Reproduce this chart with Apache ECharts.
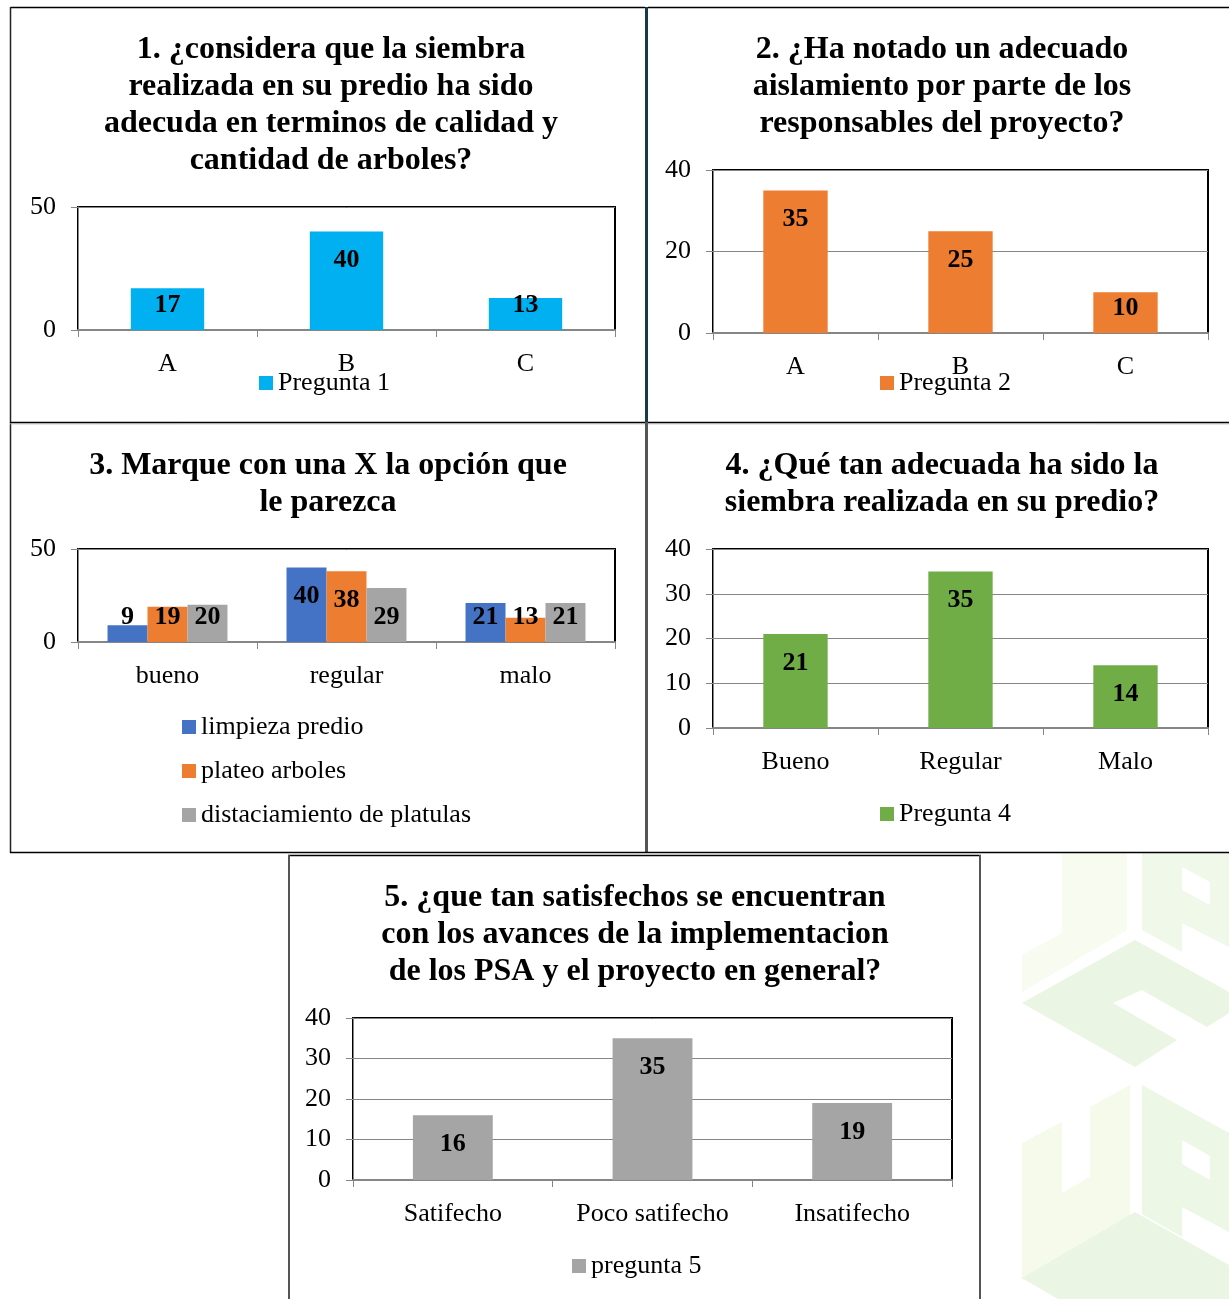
<!DOCTYPE html>
<html>
<head>
<meta charset="utf-8">
<script src="https://cdn.jsdelivr.net/npm/echarts@6/dist/echarts.min.js"></script>
<style>
html,body{margin:0;padding:0;background:#fff;}
#c{width:1229px;height:1299px;}
</style>
</head>
<body>
<div id="c"></div>
<script>
// ---------- data ----------
const cats1 = ['A', 'B', 'C'];
const pregunta1 = [17, 40, 13];

const cats2 = ['A', 'B', 'C'];
const pregunta2 = [35, 25, 10];

const cats3 = ['bueno', 'regular', 'malo'];
const limpiezaPredio = [9, 40, 21];
const plateoArboles = [19, 38, 13];
const distaciamiento = [20, 29, 21];

const cats4 = ['Bueno', 'Regular', 'Malo'];
const pregunta4 = [21, 35, 14];

const cats5 = ['Satifecho', 'Poco satifecho', 'Insatifecho'];
const pregunta5 = [16, 35, 19];

const titles = [
  '1. ¿considera que la siembra\nrealizada en su predio ha sido\nadecuda en terminos de calidad y\ncantidad de arboles?',
  '2. ¿Ha notado un adecuado\naislamiento por parte de los\nresponsables del proyecto?',
  '3. Marque con una X la opción que\nle parezca',
  '4. ¿Qué tan adecuada ha sido la\nsiembra realizada en su predio?',
  '5. ¿que tan satisfechos se encuentran\ncon los avances de la implementacion\nde los PSA y el proyecto en general?'
];

// ---------- styling ----------
const FF = '"Liberation Serif","Times New Roman",serif';
const C_BLUE = '#00B0F0', C_ORANGE = '#ED7D31', C_GRAY = '#A5A5A5', C_DBLUE = '#4472C4', C_GREEN = '#70AD47';
const AX = '#868686';

const chart = echarts.init(document.getElementById('c'), null, {renderer: 'canvas'});

const grids = [
  {left: 78, top: 207, width: 537, height: 123},
  {left: 713, top: 170, width: 495, height: 163},
  {left: 78, top: 549, width: 537, height: 93},
  {left: 713, top: 549, width: 495, height: 179},
  {left: 353, top: 1018, width: 599, height: 162}
].map(g => Object.assign({show: true, borderColor: '#000', borderWidth: 2, backgroundColor: 'transparent', containLabel: false}, g));

function xAx(i, cats) {
  return {
    type: 'category', gridIndex: i, data: cats,
    axisLine: {show: true, lineStyle: {color: AX, width: 2}},
    axisTick: {show: true, length: 7, lineStyle: {color: AX, width: 1}},
    axisLabel: {color: '#000', fontFamily: FF, fontSize: 26, margin: 21}
  };
}
function yAx(i, max, interval) {
  return {
    type: 'value', gridIndex: i, min: 0, max: max, interval: interval,
    axisLine: {show: true, lineStyle: {color: AX, width: 1}},
    axisTick: {show: true, length: 7, lineStyle: {color: AX, width: 1}},
    splitLine: {show: true, lineStyle: {color: AX, width: 1}},
    axisLabel: {color: '#000', fontFamily: FF, fontSize: 26, margin: 22}
  };
}

const labelLayout = function (p) {
  const r = p.rect;
  return {
    x: r.x + r.width / 2,
    y: Math.min(r.y + 29, r.y + r.height - 25),
    align: 'center', verticalAlign: 'middle'
  };
};
function barSeries(name, i, data, color, extra) {
  return Object.assign({
    type: 'bar', name: name, xAxisIndex: i, yAxisIndex: i, data: data,
    itemStyle: {color: color},
    label: {show: true, position: 'inside', color: '#000', fontFamily: FF, fontSize: 26, fontWeight: 'bold'},
    labelLayout: labelLayout,
    emphasis: {disabled: true},
    z: 3
  }, extra || {});
}

const titleCfg = [
  {x: 331, y: 31},
  {x: 942, y: 31},
  {x: 328, y: 447},
  {x: 942, y: 447},
  {x: 635, y: 879}
];

const legendText = {color: '#000', fontFamily: FF, fontSize: 26, lineHeight: 26};
function legend(names, left, top, orient) {
  return {
    data: names, left: left, top: top, orient: orient || 'horizontal',
    itemWidth: 14, itemHeight: 14, itemGap: 18, icon: 'rect', padding: 0,
    textStyle: legendText, selectedMode: false
  };
}

// decorative faint watermark (background logo)
function poly(pts, fill) {
  return {type: 'polygon', shape: {points: pts}, style: {fill: fill}, z: -10, silent: true};
}
function line(x1, y1, x2, y2, color, w) {
  return {type: 'line', shape: {x1: x1, y1: y1, x2: x2, y2: y2}, style: {stroke: color, lineWidth: w}, z: 50, silent: true};
}

const graphics = [
  poly([[1142,853],[1229,853],[1229,947],[1182,923],[1182,952],[1142,930]], '#f0f8ea'),
  poly([[1182,867],[1210,882],[1210,905],[1182,890]], '#ffffff'),
  poly([[1062,853],[1127,853],[1127,930],[1022,992],[1022,955],[1062,933]], '#f8fbf0'),
  poly([[1022,1003],[1135,940],[1229,992],[1229,1013],[1207,1027],[1142,990],[1113,1003],[1177,1040],[1135,1067]], '#ebf5e3'),
  poly([[1022,1143],[1062,1122],[1062,1193],[1090,1177],[1090,1107],[1130,1085],[1130,1217],[1022,1280]], '#f5faeb'),
  poly([[1142,1085],[1229,1133],[1229,1232],[1182,1207],[1182,1237],[1142,1214]], '#edf7e6'),
  poly([[1182,1140],[1210,1156],[1210,1180],[1182,1164]], '#ffffff'),
  poly([[1022,1278],[1135,1212],[1229,1265],[1229,1299],[1058,1299]], '#ebf5e3'),
  // panel frames
  line(10.5, 7.5, 645, 7.5, '#000', 1.5),
  line(648, 7.5, 1229, 7.5, '#000', 1.5),
  line(10.5, 7, 10.5, 853, '#222', 1.5),
  line(10, 422.5, 1229, 422.5, '#000', 1.5),
  line(10, 423.8, 1229, 423.8, '#aaa', 1),
  line(646.5, 7, 646.5, 422, '#163a4c', 3),
  line(646.5, 422, 646.5, 853, '#555', 3),
  line(10, 852.5, 1229, 852.5, '#000', 1.5),
  line(288, 855.5, 981, 855.5, '#000', 1.5),
  line(289, 855, 289, 1299, '#555', 2),
  line(980, 855, 980, 1299, '#555', 2)
];

const option = {
  backgroundColor: '#fff',
  animation: false,
  title: titles.map((t, i) => ({
    text: t, left: titleCfg[i].x, top: titleCfg[i].y, textAlign: 'center', padding: 0,
    textStyle: {fontFamily: FF, fontSize: 32, fontWeight: 'bold', color: '#000', lineHeight: 37, align: 'center'}
  })),
  grid: grids,
  xAxis: [xAx(0, cats1), xAx(1, cats2), xAx(2, cats3), xAx(3, cats4), xAx(4, cats5)],
  yAxis: [yAx(0, 50, 50), yAx(1, 40, 20), yAx(2, 50, 50), yAx(3, 40, 10), yAx(4, 40, 10)],
  legend: [
    legend(['Pregunta 1'], 259, 370),
    legend(['Pregunta 2'], 880, 370),
    legend(['limpieza predio', 'plateo arboles', 'distaciamiento de platulas'], 182, 714, 'vertical'),
    legend(['Pregunta 4'], 880, 801),
    legend(['pregunta 5'], 572, 1253)
  ],
  series: [
    barSeries('Pregunta 1', 0, pregunta1, C_BLUE, {barWidth: '41%'}),
    barSeries('Pregunta 2', 1, pregunta2, C_ORANGE, {barWidth: '39%'}),
    barSeries('limpieza predio', 2, limpiezaPredio, C_DBLUE, {barGap: '0%', barCategoryGap: '33%'}),
    barSeries('plateo arboles', 2, plateoArboles, C_ORANGE, {barGap: '0%', barCategoryGap: '33%'}),
    barSeries('distaciamiento de platulas', 2, distaciamiento, C_GRAY, {barGap: '0%', barCategoryGap: '33%'}),
    barSeries('Pregunta 4', 3, pregunta4, C_GREEN, {barWidth: '39%'}),
    barSeries('pregunta 5', 4, pregunta5, C_GRAY, {barWidth: '40%'})
  ],
  graphic: graphics
};
chart.setOption(option);
</script>
</body>
</html>
